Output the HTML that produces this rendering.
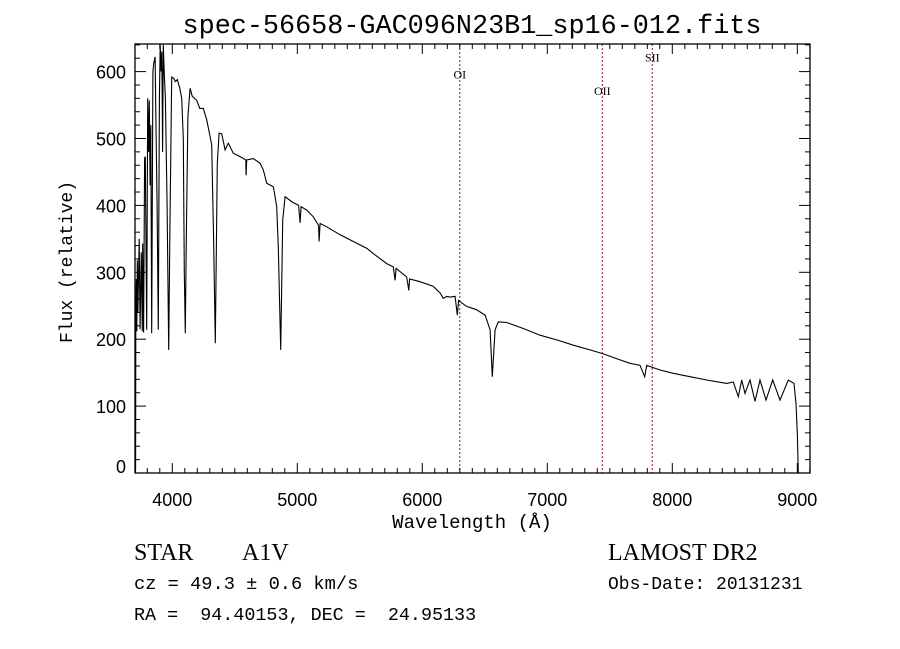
<!DOCTYPE html>
<html><head><meta charset="utf-8"><style>
body{margin:0;background:#fff}
svg{display:block}
text{white-space:pre}
</style></head><body>
<svg width="900" height="649" viewBox="0 0 900 649" xmlns="http://www.w3.org/2000/svg" xml:space="preserve">
<rect width="900" height="649" fill="#fff"/>
<text x="472" y="33" text-anchor="middle" font-family="Liberation Mono, monospace" font-size="26.8">spec-56658-GAC096N23B1_sp16-012.fits</text>
<g id="lines"></g>
<path id="spec" fill="none" stroke="#000" stroke-width="1.1"/>
<g id="axes"></g>
<rect x="135" y="44" width="675" height="429" fill="none" stroke="#000" stroke-width="1.3"/>
<text x="472" y="528" text-anchor="middle" font-family="Liberation Mono, monospace" font-size="19">Wavelength (Å)</text>
<text transform="translate(72,262) rotate(-90)" text-anchor="middle" font-family="Liberation Mono, monospace" font-size="18">Flux (relative)</text>
<text x="134" y="560" font-family="Liberation Serif, serif" font-size="24">STAR</text>
<text x="242" y="560" font-family="Liberation Serif, serif" font-size="24">A1V</text>
<text x="134" y="589" font-family="Liberation Mono, monospace" font-size="18.7">cz = 49.3 ± 0.6 km/s</text>
<text x="134" y="620" font-family="Liberation Mono, monospace" font-size="18.4">RA =  94.40153, DEC =  24.95133</text>
<text x="608" y="560" font-family="Liberation Serif, serif" font-size="24">LAMOST DR2</text>
<text x="608" y="589" font-family="Liberation Mono, monospace" font-size="18">Obs-Date: 20131231</text>
</svg>
<script>
const wavelengths=[3704,3706,3708,3712,3716,3720,3725,3735,3742,3752,3760,3763,3770,3778,3784,3788,3795,3803,3810,3816,3822,3828,3835,3845,3852,3862,3868,3878,3888,3897,3903,3910,3916,3922,3928,3935,3945,3958,3971,3980,3995,4010,4025,4040,4060,4075,4088,4096,4104,4112,4125,4142,4160,4195,4220,4248,4275,4302,4315,4330,4344,4360,4374,4395,4422,4448,4488,4542,4588,4590,4595,4648,4702,4728,4755,4808,4822,4835,4848,4867,4875,4883,4902,4960,5010,5022,5030,5075,5128,5170,5174,5182,5235,5342,5448,5555,5608,5715,5768,5782,5790,5875,5892,5898,5982,6088,6142,6168,6195,6222,6262,6280,6290,6302,6355,6435,6502,6542,6560,6582,6608,6675,6808,6942,7075,7208,7342,7448,7582,7662,7742,7779,7795,7902,8008,8142,8275,8435,8488,8528,8555,8582,8622,8662,8702,8750,8803,8862,8928,8974,8990,9000,9008];
const fluxes=[0,5,231,290,212,318,240,350,215,330,212,343,210,470,473,380,214,560,480,557,430,520,209,600,613,622,540,400,214,560,640,600,630,480,640,600,560,400,184,350,592,590,585,588,575,560,500,300,209,350,533,575,563,557,545,545,528,503,490,350,194,463,508,507,483,493,478,473,468,445,468,470,463,453,433,428,413,398,338,184,280,378,413,405,400,374,398,393,383,370,346,373,368,356,346,336,328,313,308,288,306,293,273,290,286,279,269,261,264,263,264,236,258,256,249,244,236,214,144,214,226,225,216,206,199,191,184,178,169,164,161,144,161,154,149,144,139,134,136,114,139,119,139,107,139,109,139,109,139,134,104,60,0];
const lineNames=["OI","OII","SII"];
const lineWaves=[6300,7440,7840];
const lineLabelFlux=[590,565,615];
const xTicks=[4000,5000,6000,7000,8000,9000];
const yTicks=[0,100,200,300,400,500,600];
const X=l=>172.3+(l-4000)*0.125;
const Y=f=>473-f*0.669;
const NS="http://www.w3.org/2000/svg";
const sp=document.getElementById('spec');
sp.setAttribute('d',wavelengths.map((w,i)=>(i?'L':'M')+X(w).toFixed(1)+' '+Y(fluxes[i]).toFixed(1)).join(' '));
const lg=document.getElementById('lines');
lineWaves.forEach((w,i)=>{
  const l=document.createElementNS(NS,'line');
  
  
  l.setAttribute('x1',X(w));l.setAttribute('x2',X(w));l.setAttribute('y1',44);l.setAttribute('y2',473);
  l.setAttribute('stroke','#8b1a1a');l.setAttribute('stroke-dasharray','2,2');l.setAttribute('stroke-width','1');
  lg.appendChild(l);
  const t=document.createElementNS(NS,'text');
  
  
  t.setAttribute('x',X(w));t.setAttribute('y',Y(lineLabelFlux[i]));
  t.setAttribute('text-anchor','middle');t.setAttribute('font-family','Liberation Serif, serif');t.setAttribute('font-size','12');
  t.textContent=lineNames[i];
  lg.appendChild(t);
});
const ax=document.getElementById('axes');
function tick(x1,y1,x2,y2){const l=document.createElementNS(NS,'line');
  
  
  l.setAttribute('x1',x1);l.setAttribute('y1',y1);l.setAttribute('x2',x2);l.setAttribute('y2',y2);l.setAttribute('stroke','#000');l.setAttribute('stroke-width','1');ax.appendChild(l);}
for(let w=3800;w<=9100;w+=100){const x=X(w);const L=(w%1000===0)?10:5;tick(x,473,x,473-L);tick(x,44,x,44+L);}
for(let f=0;f<=640;f+=20){const y=Y(f);const L=(f%100===0)?11:5;tick(135,y,135+L,y);tick(810,y,810-L,y);}
xTicks.forEach(w=>{const t=document.createElementNS(NS,'text');
  
  
  t.setAttribute('x',X(w));t.setAttribute('y',506);t.setAttribute('text-anchor','middle');
  t.setAttribute('font-family','Liberation Sans, sans-serif');t.setAttribute('font-size','18');t.textContent=w;ax.appendChild(t);});
yTicks.forEach(f=>{const t=document.createElementNS(NS,'text');
  
  
  t.setAttribute('x',126);t.setAttribute('y',Math.min(Y(f)+7,473));t.setAttribute('text-anchor','end');
  t.setAttribute('font-family','Liberation Sans, sans-serif');t.setAttribute('font-size','18');t.textContent=f;ax.appendChild(t);});
</script>
</body></html>
